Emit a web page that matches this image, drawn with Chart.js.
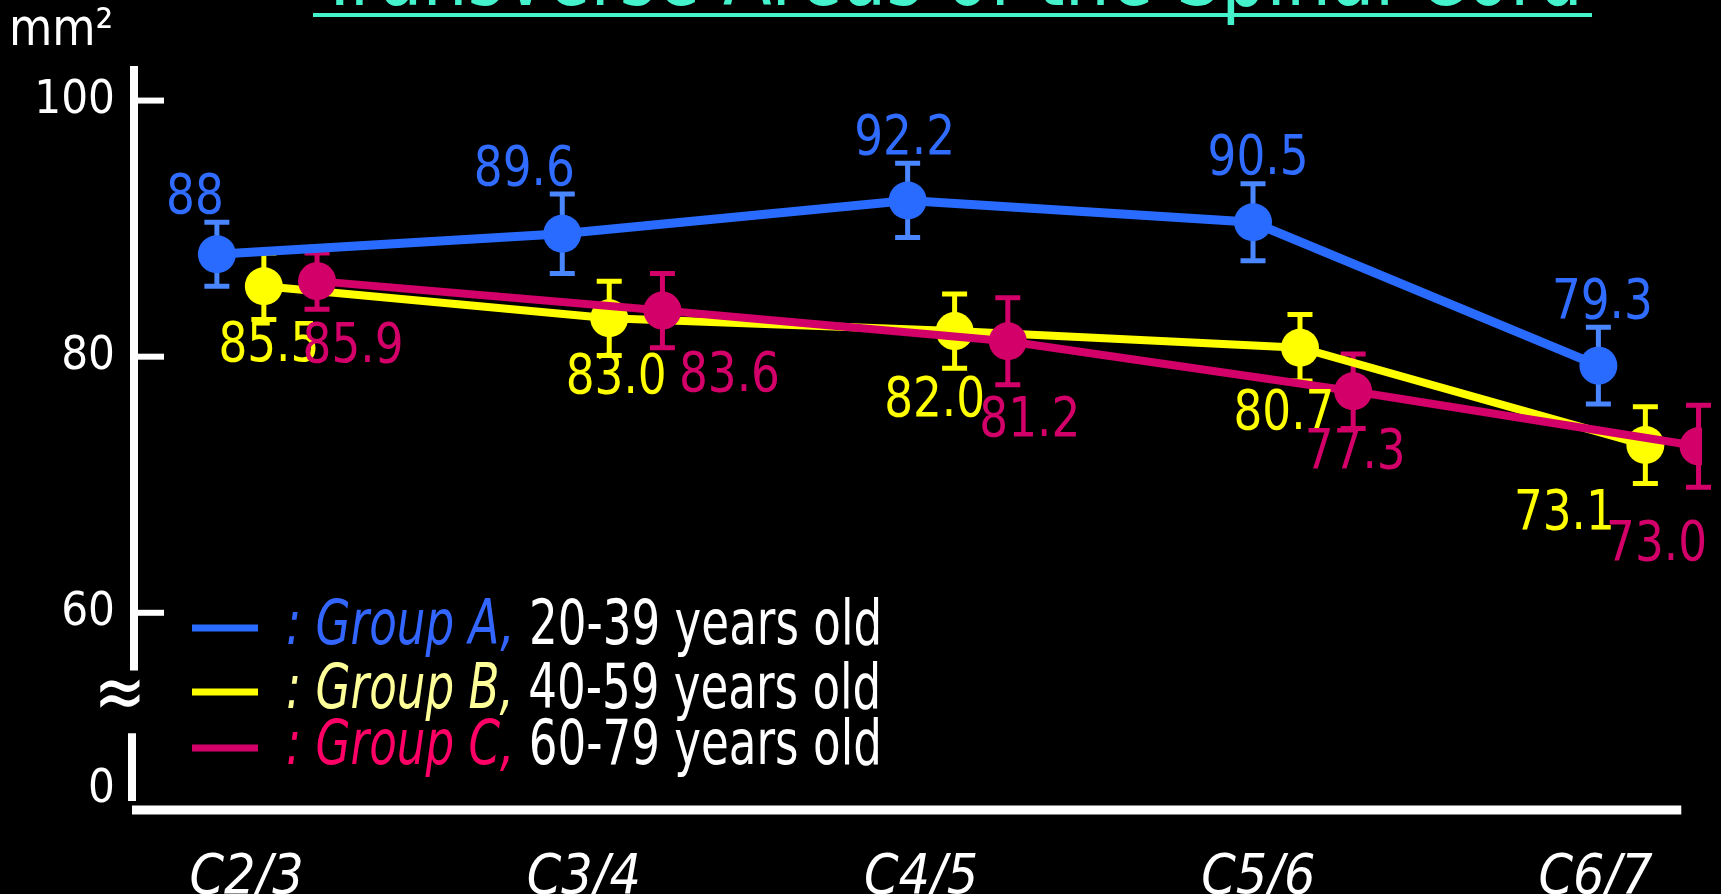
<!DOCTYPE html>
<html>
<head>
<meta charset="utf-8">
<script src="https://cdn.jsdelivr.net/npm/chart.js@4.4.1/dist/chart.umd.min.js"></script>
<style>
  html, body { margin: 0; padding: 0; background: #000; overflow: hidden; }
  canvas { display: block; }
</style>
</head>
<body>
<canvas id="chart" width="1721" height="894"></canvas>
<script>
// Disc levels
const levels = ['C2/3', 'C3/4', 'C4/5', 'C5/6', 'C6/7'];

// Mean transverse area of the cord (mm2)
const groupA = [88, 89.6, 92.2, 90.5, 79.3];
const groupB = [85.5, 83.0, 82.0, 80.7, 73.1];
const groupC = [85.9, 83.6, 81.2, 77.3, 73.0];

// SD, drawn as error bars
const sdA = [2.5, 3.1, 2.9, 3.0, 3.0];
const sdB = [2.6, 2.9, 2.9, 2.6, 3.0];
const sdC = [2.2, 2.9, 3.4, 2.9, 3.2];

// y axis (broken: the '0' sits just above the x axis)
const yTickAt = [46.2, 60, 80, 100];
const yTickLabels = ['0', '60', '80', '100'];

const FONT = '"DejaVu Sans Condensed", "DejaVu Sans", sans-serif';

// horizontal dodge of each group within a level
const shift = [0, 0.136, 0.29];

// where each value label sits relative to its point (px)
const offA = [[-22, 0], [-38, 0], [-3, 0], [5, 0], [4, 0]]; // above the error bar
const offB = [[5, 60], [7, 60], [-20, 70], [-16, 67], [-81, 69]];
const offC = [[36, 66], [67, 66], [22, 80], [2, 62], [-42, 99]];

const series = [
  { name: 'Group A,', age: '20-39 years old', data: groupA, sd: sdA, off: offA, above: true,
    line: '#2a6bff', err: '#4a86ff', text: '#2f6cff', legendText: '#3366ff', fmt: v => String(v), order: 0, width: 9 },
  { name: 'Group B,', age: '40-59 years old', data: groupB, sd: sdB, off: offB, above: false,
    line: '#ffff00', err: '#ffff00', text: '#ffff00', legendText: '#ffff99', fmt: v => v.toFixed(1), order: 2, width: 8 },
  { name: 'Group C,', age: '60-79 years old', data: groupC, sd: sdC, off: offC, above: false,
    line: '#d4006a', err: '#d4006a', text: '#d4006a', legendText: '#ff0066', fmt: v => v.toFixed(1), order: 1, width: 8 }
];

// draw text squeezed horizontally (the slide font is tall and narrow)
function narrowText(ctx, str, x, y, sx) {
  ctx.save();
  ctx.translate(x, y);
  ctx.scale(sx, 1);
  ctx.fillText(str, 0, 0);
  ctx.restore();
}

const errorBars = {
  id: 'errorBars',
  beforeDatasetsDraw(chart) {
    const ctx = chart.ctx;
    const y = chart.scales.y;
    series.forEach((s, di) => {
      const meta = chart.getDatasetMeta(di);
      ctx.save();
      ctx.strokeStyle = s.err;
      ctx.lineWidth = 5;
      meta.data.forEach((pt, i) => {
        const top = y.getPixelForValue(s.data[i] + s.sd[i]);
        const bot = y.getPixelForValue(s.data[i] - s.sd[i]);
        ctx.beginPath();
        ctx.moveTo(pt.x, top); ctx.lineTo(pt.x, bot);
        ctx.moveTo(pt.x - 12.5, top); ctx.lineTo(pt.x + 12.5, top);
        ctx.moveTo(pt.x - 12.5, bot); ctx.lineTo(pt.x + 12.5, bot);
        ctx.stroke();
      });
      ctx.restore();
    });
  }
};

const brokenAxes = {
  id: 'brokenAxes',
  beforeDatasetsDraw(chart) {
    const { ctx, chartArea, scales: { x, y } } = chart;
    const ax = chartArea.left;
    ctx.save();
    ctx.strokeStyle = '#fff';
    ctx.lineWidth = 8;
    ctx.beginPath();
    ctx.moveTo(ax, chartArea.top);
    ctx.lineTo(ax, y.getPixelForValue(55.5));
    ctx.moveTo(ax - 2, y.getPixelForValue(50.6));
    ctx.lineTo(ax - 2, chartArea.bottom - 9);
    ctx.stroke();
    ctx.lineWidth = 9;
    ctx.beginPath();
    ctx.moveTo(ax - 2, chartArea.bottom);
    ctx.lineTo(x.getPixelForValue(4.24), chartArea.bottom);
    ctx.stroke();
    ctx.lineWidth = 6;
    [60, 80, 100].forEach(v => {
      const py = y.getPixelForValue(v);
      ctx.beginPath();
      ctx.moveTo(ax, py); ctx.lineTo(ax + 30, py);
      ctx.stroke();
    });
    ctx.fillStyle = '#fff';
    ctx.font = '78px "DejaVu Sans"';
    ctx.textAlign = 'center';
    ctx.textBaseline = 'middle';
    narrowText(ctx, '\u2248', ax - 14, y.getPixelForValue(53.4), 0.8);
    ctx.restore();
  }
};

const valueLabels = {
  id: 'valueLabels',
  afterDatasetsDraw(chart) {
    const ctx = chart.ctx;
    const y = chart.scales.y;
    ctx.save();
    ctx.font = '56px ' + FONT;
    ctx.textAlign = 'center';
    ctx.textBaseline = 'middle';
    series.forEach((s, di) => {
      const meta = chart.getDatasetMeta(di);
      ctx.fillStyle = s.text;
      meta.data.forEach((pt, i) => {
        const [dx, dy] = s.off[i];
        const ly = s.above ? y.getPixelForValue(s.data[i] + s.sd[i]) - 24 : pt.y + dy;
        narrowText(ctx, s.fmt(s.data[i]), pt.x + dx, ly, 0.9);
      });
    });
    ctx.restore();
  }
};

const decorations = {
  id: 'decorations',
  afterDraw(chart) {
    const ctx = chart.ctx;
    ctx.save();
    // title, mostly above the top edge, fitted to its underline
    const title = 'Transverse Areas of the Spinal Cord';
    ctx.fillStyle = '#44f2cc';
    ctx.font = '94px ' + FONT;
    ctx.textAlign = 'left';
    ctx.textBaseline = 'alphabetic';
    const tw = ctx.measureText(title).width;
    narrowText(ctx, title, 318, 5, 1265 / tw);
    ctx.fillRect(313, 13, 1279, 4);

    // unit
    ctx.fillStyle = '#fff';
    ctx.font = '52px ' + FONT;
    narrowText(ctx, 'mm\u00b2', 9, 45, 0.95);

    // legend
    const rows = [628, 692, 748];
    const sx = 0.81;
    series.forEach((s, i) => {
      const ry = rows[i];
      ctx.strokeStyle = s.line;
      ctx.lineWidth = 7;
      ctx.beginPath();
      ctx.moveTo(192, ry); ctx.lineTo(258, ry);
      ctx.stroke();
      ctx.textBaseline = 'middle';
      ctx.font = 'italic 62px ' + FONT;
      ctx.fillStyle = s.legendText;
      const head = ': ' + s.name + ' ';
      narrowText(ctx, head, 286, ry, sx);
      const w = ctx.measureText(head).width * sx;
      ctx.font = '62px ' + FONT;
      ctx.fillStyle = '#fff';
      narrowText(ctx, s.age, 286 + w, ry, sx);
    });
    ctx.restore();
  }
};

new Chart(document.getElementById('chart'), {
  type: 'line',
  data: {
    datasets: series.map((s, k) => ({
      label: s.name,
      data: s.data.map((v, i) => ({ x: i + shift[k], y: v })),
      borderColor: s.line,
      backgroundColor: s.line,
      borderWidth: s.width,
      pointRadius: 19,
      pointBorderWidth: 0,
      pointBackgroundColor: s.line,
      tension: 0,
      order: s.order
    }))
  },
  options: {
    responsive: false,
    animation: false,
    devicePixelRatio: 1,
    layout: { padding: { top: 66, right: 3, left: 0, bottom: 0 } },
    plugins: { legend: { display: false }, tooltip: { enabled: false } },
    scales: {
      x: {
        type: 'linear', min: -0.24, max: 4.30,
        grid: { display: false, drawTicks: false }, border: { display: false },
        afterFit(s) { s.height = 84; },
        afterBuildTicks(s) { s.ticks = levels.map((_, i) => ({ value: 0.086 + 0.9765 * i })); },
        ticks: {
          color: '#fff', padding: 36, maxRotation: 0, autoSkip: false,
          font: { family: FONT, size: 55, style: 'italic' },
          callback: (v, i) => levels[i]
        }
      },
      y: {
        min: 44.6, max: 102.7,
        grid: { display: false, drawTicks: false }, border: { display: false },
        afterFit(s) { s.width = 134; },
        afterBuildTicks(s) { s.ticks = yTickAt.map(v => ({ value: v })); },
        ticks: {
          color: '#fff', padding: 19,
          font: { family: FONT, size: 47 },
          callback: (v, i) => yTickLabels[i]
        }
      }
    }
  },
  plugins: [brokenAxes, errorBars, valueLabels, decorations]
});
</script>
</body>
</html>
